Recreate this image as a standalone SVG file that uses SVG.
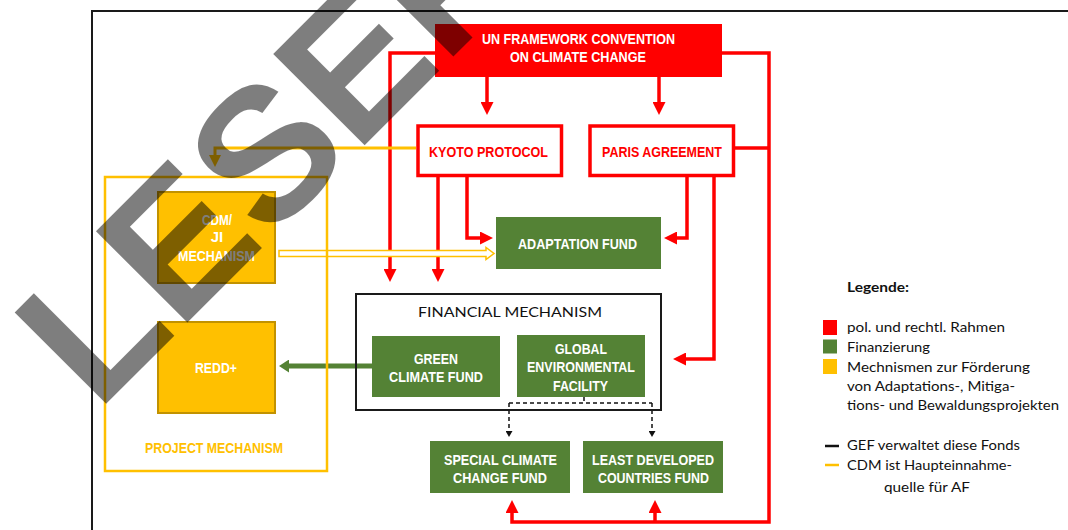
<svg xmlns="http://www.w3.org/2000/svg" width="1068" height="530" viewBox="0 0 1068 530">
<style>
.bx{font-family:"Liberation Sans Narrow","Liberation Sans",sans-serif;font-weight:bold;font-size:15px;text-anchor:middle}
.w{fill:#fff}
.r{fill:#FF0000}
.y{fill:#FFC000}
.red{fill:none;stroke:#FF0000;stroke-width:3.5}
.lg{font-family:Lato,"Liberation Sans",sans-serif;font-size:13px;fill:#111}
.green{fill:#548235}
</style>
<defs>
<marker id="ar" viewBox="0 0 13 13" markerWidth="13" markerHeight="13" markerUnits="userSpaceOnUse" refX="5" refY="6.5" orient="auto">
<path d="M0,0 L13,6.5 L0,13 z" fill="#FF0000"/>
</marker>
<marker id="ay" viewBox="0 0 12 12" markerWidth="12" markerHeight="12" markerUnits="userSpaceOnUse" refX="4" refY="6" orient="auto">
<path d="M0,0 L12,6 L0,12 z" fill="#FFC000"/>
</marker>
<marker id="ag" viewBox="0 0 10 13" markerWidth="10" markerHeight="13" markerUnits="userSpaceOnUse" refX="3" refY="6.5" orient="auto">
<path d="M0,0 L10,6.5 L0,13 z" fill="#548235"/>
</marker>
<marker id="ak" viewBox="0 0 6 7" markerWidth="6" markerHeight="7" markerUnits="userSpaceOnUse" refX="2" refY="3.5" orient="auto">
<path d="M0,0 L6,3.5 L0,7 z" fill="#111"/>
</marker>
</defs>

<rect width="1068" height="530" fill="#fff"/>
<g id="frame">
<path d="M1068,11 H92 V530" fill="none" stroke="#1a1a1a" stroke-width="2"/>
</g>

<g id="connectors">
<path class="red" d="M487,77 V107" marker-end="url(#ar)"/>
<path class="red" d="M659,77 V107" marker-end="url(#ar)"/>
<path class="red" d="M436,53 H390 V274" marker-end="url(#ar)"/>
<path class="red" d="M438,177 V274" marker-end="url(#ar)"/>
<path class="red" d="M467,177 V238 H485" marker-end="url(#ar)"/>
<path class="red" d="M687,177 V238 H672" marker-end="url(#ar)"/>
<path class="red" d="M714,177 V359 H681" marker-end="url(#ar)"/>
<path class="red" d="M721,53 H769 V522 H512 V508" marker-end="url(#ar)"/>
<path class="red" d="M655,522 V508" marker-end="url(#ar)"/>
<path class="red" d="M735,148 H769"/>
<path d="M416,148 H215 V159" fill="none" stroke="#FFC000" stroke-width="3" marker-end="url(#ay)"/>
<polygon points="279,250.5 486,250.5 486,247.5 494,253.5 486,259.5 486,256.5 279,256.5" fill="#fff" stroke="#FFC000" stroke-width="1.5"/>
<path d="M372,366 H286" fill="none" stroke="#548235" stroke-width="5" marker-end="url(#ag)"/>
<g fill="none" stroke="#111" stroke-width="1.5" stroke-dasharray="4,3">
<path d="M584,397 V403"/>
<path d="M509,403 H652"/>
<path d="M509,403 V433" marker-end="url(#ak)"/>
<path d="M652,403 V433" marker-end="url(#ak)"/>
</g>
</g>

<g id="unfccc">
<rect x="435" y="24" width="287" height="53" fill="#FF0000"/>
<text class="bx w" x="578.5" y="43.5" font-size="14.5" textLength="193" lengthAdjust="spacingAndGlyphs">UN FRAMEWORK CONVENTION</text>
<text class="bx w" x="578" y="62" font-size="14.5" textLength="136" lengthAdjust="spacingAndGlyphs">ON CLIMATE CHANGE</text>
</g>
<g id="kyoto">
<rect x="418" y="126" width="143.5" height="49.5" fill="#fff" stroke="#FF0000" stroke-width="3.5"/>
<text class="bx r" x="488.5" y="157" textLength="119" lengthAdjust="spacingAndGlyphs">KYOTO PROTOCOL</text>
</g>
<g id="paris">
<rect x="590" y="126" width="143.5" height="49.5" fill="#fff" stroke="#FF0000" stroke-width="3.5"/>
<text class="bx r" x="662" y="157" textLength="120" lengthAdjust="spacingAndGlyphs">PARIS AGREEMENT</text>
</g>
<g id="adaptation-fund">
<rect x="496" y="217" width="165" height="52" class="green"/>
<text class="bx w" x="577.5" y="249" textLength="119" lengthAdjust="spacingAndGlyphs">ADAPTATION FUND</text>
</g>
<g id="project-mechanism">
<rect x="105" y="177" width="222" height="294" fill="none" stroke="#FFC000" stroke-width="2.5"/>
<text class="bx y" x="214" y="453" textLength="138" lengthAdjust="spacingAndGlyphs">PROJECT MECHANISM</text>
</g>
<g id="cdm-ji">
<rect x="158" y="192" width="117" height="91" fill="#FFC000" stroke="#C29200" stroke-width="2"/>
<text class="bx w" x="217" y="225" textLength="30" lengthAdjust="spacingAndGlyphs">CDM/</text>
<text class="bx w" x="217" y="242">JI</text>
<text class="bx w" x="216.5" y="261" textLength="77" lengthAdjust="spacingAndGlyphs">MECHANISM</text>
</g>
<g id="redd">
<rect x="158" y="322" width="117" height="91" fill="#FFC000" stroke="#C29200" stroke-width="2"/>
<text class="bx w" x="216" y="373" textLength="42" lengthAdjust="spacingAndGlyphs">REDD+</text>
</g>
<g id="financial-mechanism">
<rect x="356" y="294" width="305" height="116" fill="none" stroke="#1a1a1a" stroke-width="2"/>
<text x="510" y="317" font-family="Lato,'Liberation Sans',sans-serif" font-size="14" fill="#111" text-anchor="middle" textLength="184" lengthAdjust="spacingAndGlyphs">FINANCIAL MECHANISM</text>
</g>
<g id="green-climate-fund">
<rect x="372" y="336" width="128" height="61" class="green"/>
<text class="bx w" x="436" y="364" textLength="44" lengthAdjust="spacingAndGlyphs">GREEN</text>
<text class="bx w" x="436" y="382" textLength="94" lengthAdjust="spacingAndGlyphs">CLIMATE FUND</text>
</g>
<g id="gef">
<rect x="517" y="335" width="128" height="62" class="green"/>
<text class="bx w" x="581" y="354" textLength="52" lengthAdjust="spacingAndGlyphs">GLOBAL</text>
<text class="bx w" x="581" y="372" textLength="108" lengthAdjust="spacingAndGlyphs">ENVIRONMENTAL</text>
<text class="bx w" x="580.5" y="391" textLength="55" lengthAdjust="spacingAndGlyphs">FACILITY</text>
</g>
<g id="sccf">
<rect x="430" y="441" width="140" height="52" class="green"/>
<text class="bx w" x="500.5" y="465" textLength="113" lengthAdjust="spacingAndGlyphs">SPECIAL CLIMATE</text>
<text class="bx w" x="500" y="483" textLength="94" lengthAdjust="spacingAndGlyphs">CHANGE FUND</text>
</g>
<g id="ldcf">
<rect x="583" y="441" width="140" height="52" class="green"/>
<text class="bx w" x="653" y="465" textLength="122" lengthAdjust="spacingAndGlyphs">LEAST DEVELOPED</text>
<text class="bx w" x="653.5" y="483" textLength="111" lengthAdjust="spacingAndGlyphs">COUNTRIES FUND</text>
</g>

<g id="legend">
<text class="lg" x="847" y="292" font-weight="bold" textLength="62" lengthAdjust="spacingAndGlyphs">Legende:</text>
<rect x="823" y="320" width="14" height="15" fill="#FF0000"/>
<rect x="823" y="339.5" width="14" height="14" fill="#548235"/>
<rect x="823" y="359" width="14" height="15" fill="#FFC000"/>
<text class="lg" x="847" y="332" textLength="158" lengthAdjust="spacingAndGlyphs">pol. und rechtl. Rahmen</text>
<text class="lg" x="847" y="352" textLength="83" lengthAdjust="spacingAndGlyphs">Finanzierung</text>
<text class="lg" x="847" y="372" textLength="183" lengthAdjust="spacingAndGlyphs">Mechnismen zur Förderung</text>
<text class="lg" x="847" y="391" textLength="168" lengthAdjust="spacingAndGlyphs">von Adaptations-, Mitiga-</text>
<text class="lg" x="847" y="410" textLength="212" lengthAdjust="spacingAndGlyphs">tions- und Bewaldungsprojekten</text>
<line x1="825" y1="446" x2="839" y2="446" stroke="#111" stroke-width="2.5"/>
<line x1="825" y1="465" x2="839" y2="465" stroke="#FFC000" stroke-width="2.5"/>
<text class="lg" x="847" y="450" textLength="173" lengthAdjust="spacingAndGlyphs">GEF verwaltet diese Fonds</text>
<text class="lg" x="847" y="470" textLength="165" lengthAdjust="spacingAndGlyphs">CDM ist Haupteinnahme-</text>
<text class="lg" x="884" y="492" textLength="86" lengthAdjust="spacingAndGlyphs">quelle für AF</text>
</g>

<g id="watermark" opacity="0.5">
<text transform="translate(97.3,412.7) rotate(-45)" x="0" y="0" font-family="'Liberation Sans',Arial,sans-serif" font-weight="bold" font-size="188" fill="#000">LESEPROBE</text>
</g>
</svg>
